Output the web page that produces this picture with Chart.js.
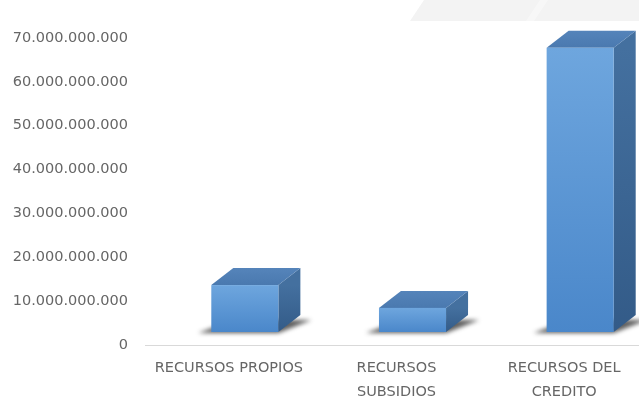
<!DOCTYPE html>
<html>
<head>
<meta charset="utf-8">
<script src="https://cdn.jsdelivr.net/npm/chart.js@4.4.1/dist/chart.umd.min.js"></script>
<style>
  html, body { margin: 0; padding: 0; background: #fff; overflow: hidden; }
  #wrap { position: relative; width: 648px; height: 397px; }
</style>
</head>
<body>
<div id="wrap"><canvas id="chart"></canvas></div>
<script>
// fuentes de financiación (pesos)
const categorias = [["RECURSOS PROPIOS"], ["RECURSOS", "SUBSIDIOS"], ["RECURSOS DEL", "CREDITO"]]
const montos = [10700000000, 5500000000, 64800000000]
const ejeMin = 0
const ejeMax = 70000000000
const ejePaso = 10000000000

// 3d box geometry (px)
const SHIFT_X = 16   // front face offset from category centre
const LIFT = 13      // bars sit a bit behind the floor edge
const DEPTH_X = 22
const DEPTH_Y = -17

const miles = v => String(v).replace(/\B(?=(\d{3})+(?!\d))/g, ".")

// faint grey band in the top right corner
const fondo = {
  id: "fondo",
  beforeDraw(chart) {
    const { ctx } = chart
    ctx.save()
    ctx.fillStyle = "#f3f3f3"
    ctx.beginPath()
    ctx.moveTo(424, 0)
    ctx.lineTo(648, 0)
    ctx.lineTo(648, 21)
    ctx.lineTo(410, 21)
    ctx.closePath()
    ctx.fill()
    ctx.fillStyle = "#f7f7f7"
    ctx.beginPath()
    ctx.moveTo(540, 0)
    ctx.lineTo(548, 0)
    ctx.lineTo(534, 21)
    ctx.lineTo(526, 21)
    ctx.closePath()
    ctx.fill()
    ctx.restore()
  }
}

const cajas3d = {
  id: "cajas3d",
  afterDatasetsDraw(chart) {
    const { ctx } = chart
    const meta = chart.getDatasetMeta(0)
    meta.data.forEach(bar => {
      const { x, y, base, width } = bar.getProps(["x", "y", "base", "width"], true)
      const l = x - width / 2 + SHIFT_X
      const r = l + width
      const top = y - LIFT
      const bottom = base - LIFT

      ctx.save()

      // shadow on the floor
      ctx.filter = "blur(2px)"
      ctx.fillStyle = "rgba(25, 25, 25, 0.7)"
      ctx.beginPath()
      ctx.moveTo(l - 13, bottom + 1)
      ctx.lineTo(r, bottom + 1)
      ctx.lineTo(r + DEPTH_X + 11, bottom + DEPTH_Y + 5)
      ctx.lineTo(l + DEPTH_X, bottom + DEPTH_Y + 5)
      ctx.closePath()
      ctx.fill()
      ctx.filter = "none"

      // side face
      let g = ctx.createLinearGradient(0, top, 0, bottom)
      g.addColorStop(0, "#44709f")
      g.addColorStop(1, "#335b88")
      ctx.fillStyle = g
      ctx.beginPath()
      ctx.moveTo(r, top)
      ctx.lineTo(r + DEPTH_X, top + DEPTH_Y)
      ctx.lineTo(r + DEPTH_X, bottom + DEPTH_Y)
      ctx.lineTo(r, bottom)
      ctx.closePath()
      ctx.fill()

      // top face
      g = ctx.createLinearGradient(0, top + DEPTH_Y, 0, top)
      g.addColorStop(0, "#5584ba")
      g.addColorStop(1, "#4a79af")
      ctx.fillStyle = g
      ctx.beginPath()
      ctx.moveTo(l, top)
      ctx.lineTo(l + DEPTH_X, top + DEPTH_Y)
      ctx.lineTo(r + DEPTH_X, top + DEPTH_Y)
      ctx.lineTo(r, top)
      ctx.closePath()
      ctx.fill()

      // front face
      g = ctx.createLinearGradient(0, top, 0, bottom)
      g.addColorStop(0, "#6ea6de")
      g.addColorStop(1, "#4a87ca")
      ctx.fillStyle = g
      ctx.fillRect(l, top, width, bottom - top)

      ctx.restore()
    })
  }
}

new Chart(document.getElementById("chart"), {
  type: "bar",
  data: {
    labels: categorias,
    datasets: [{
      data: montos,
      backgroundColor: "rgba(0,0,0,0)",
      borderWidth: 0,
      categoryPercentage: 1,
      barPercentage: 0.4
    }]
  },
  options: {
    responsive: true,
    maintainAspectRatio: false,
    animation: false,
    layout: { padding: { top: 38, left: 0, right: 0, bottom: 0 } },
    plugins: {
      legend: { display: false },
      tooltip: { enabled: false }
    },
    scales: {
      x: {
        grid: { display: false, drawTicks: false },
        border: { display: true, color: "#d9d9d9", width: 1 },
        ticks: {
          padding: 11,
          color: "#666",
          maxRotation: 0,
          autoSkip: false,
          font: { family: "DejaVu Sans", size: 14.5, lineHeight: 1.65 }
        },
        afterFit: scale => { scale.height = 52 }
      },
      y: {
        min: ejeMin,
        max: ejeMax,
        grid: { display: false, drawTicks: false },
        border: { display: false },
        ticks: {
          stepSize: ejePaso,
          padding: 17,
          color: "#666",
          font: { family: "DejaVu Sans", size: 14.5 },
          callback: v => miles(v)
        },
        afterFit: scale => { scale.width = 145 }
      }
    }
  },
  plugins: [fondo, cajas3d]
})
</script>
</body>
</html>
